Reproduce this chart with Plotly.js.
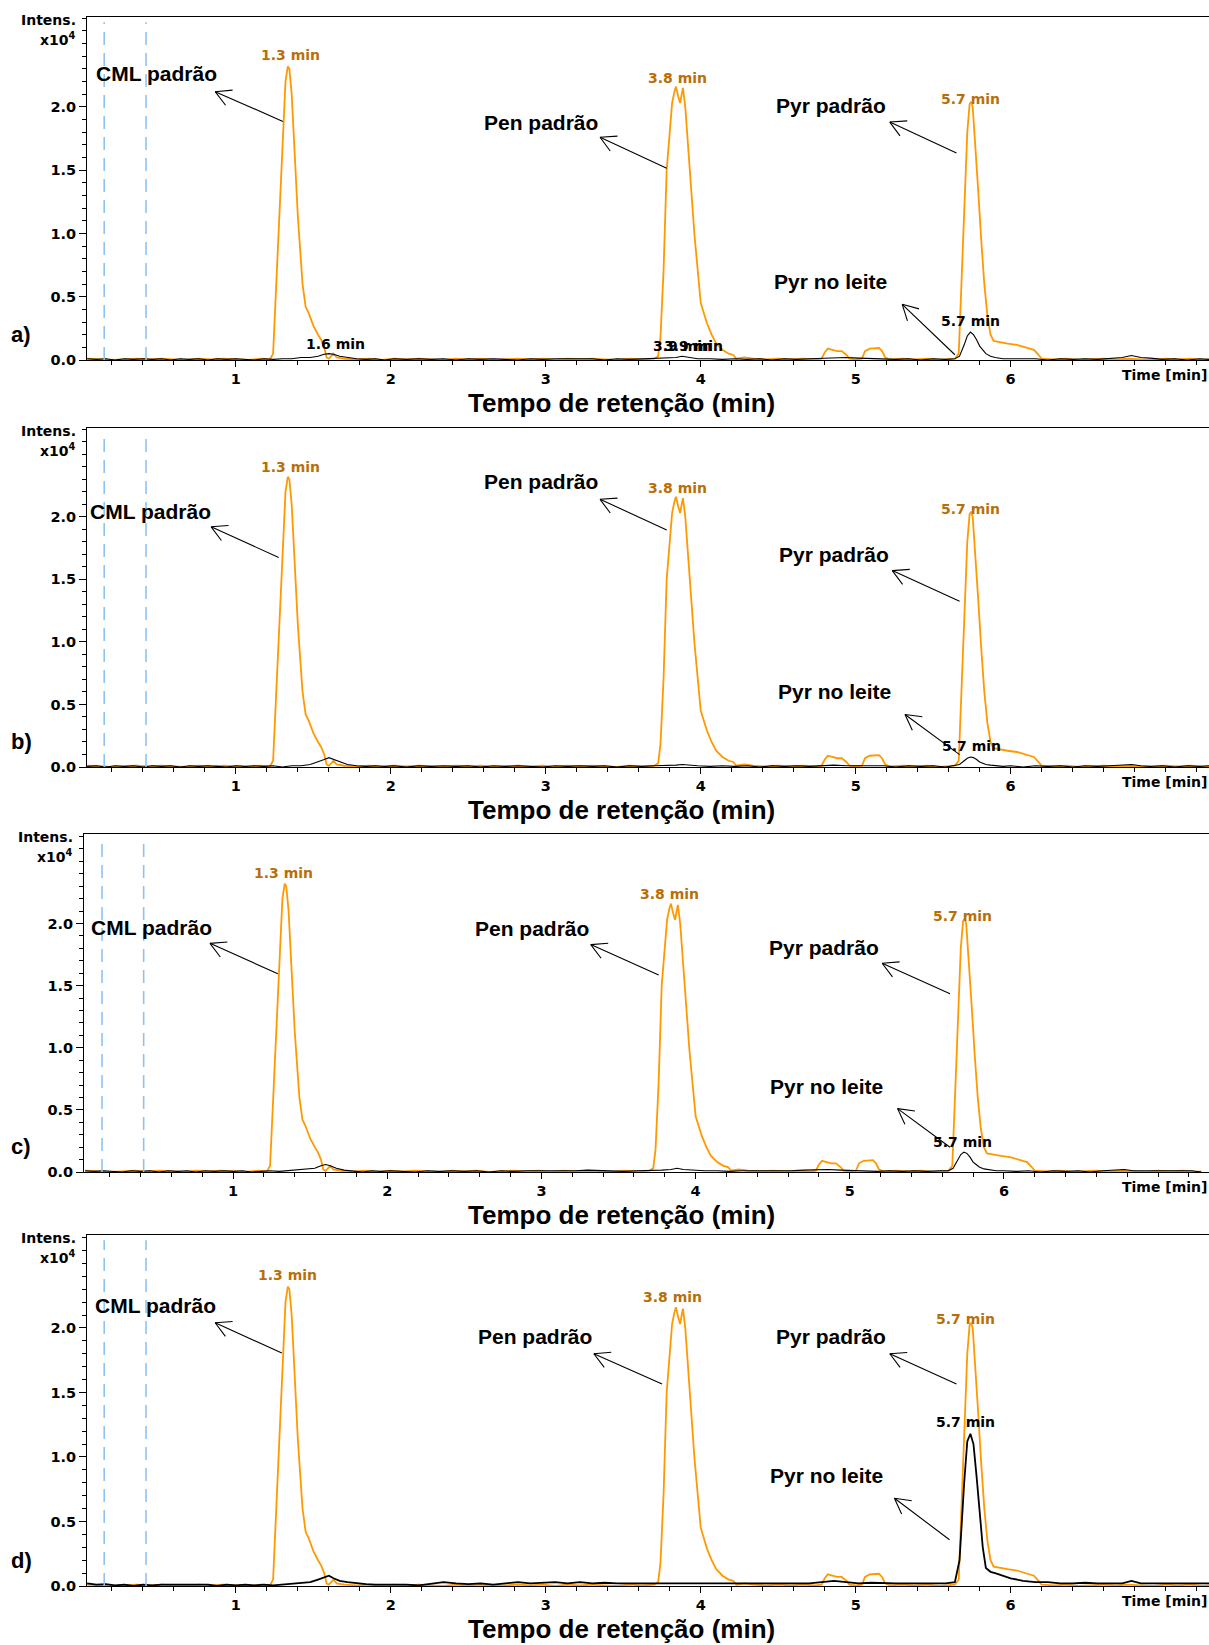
<!DOCTYPE html>
<html><head><meta charset="utf-8">
<script src="https://cdn.plot.ly/plotly-3.0.1.min.js"></script>
<style>body{margin:0;padding:0;background:#fff}#chart{width:1209px;height:1645px}</style>
</head><body><div id="chart"></div>
<script>
// ---- standard (orange) chromatogram, intensity x10^4 ----
const tStd = [0.04,0.12,0.2,0.28,0.36,0.44,0.52,0.6,0.68,0.76,0.84,0.92,1.0,1.08,1.16,1.22,
 1.24,1.26,1.28,1.30,1.32,1.335,1.345,1.36,1.38,1.40,1.43,1.45,1.47,1.50,1.53,1.55,1.57,1.585,1.60,1.63,1.65,1.70,
 1.78,1.86,1.94,2.02,2.10,2.18,2.26,2.34,2.42,2.50,2.58,2.66,2.74,2.82,2.90,2.98,3.06,3.14,3.22,3.30,3.38,3.46,3.54,3.62,3.70,
 3.725,3.74,3.76,3.78,3.80,3.815,3.83,3.84,3.855,3.867,3.877,3.885,3.90,3.93,3.96,4.00,4.04,4.07,4.10,4.14,4.18,4.21,4.23,
 4.28,4.34,4.42,4.50,4.58,4.66,4.74,4.78,4.80,4.82,4.85,4.88,4.91,4.94,4.96,5.00,5.04,5.06,5.09,5.12,5.15,5.17,5.19,5.22,
 5.30,5.38,5.46,5.54,5.60,5.64,5.665,5.68,5.70,5.72,5.735,5.745,5.755,5.77,5.79,5.81,5.83,5.85,5.87,5.89,5.93,5.98,6.04,6.10,6.15,6.18,6.20,
 6.28,6.36,6.44,6.52,6.60,6.68,6.76,6.84,6.92,7.00,7.08,7.16,7.24,7.28];
const stdIntensity = [0.01,0.005,0.0,0.005,0.01,0.005,0.01,0.005,0.0,0.01,0.005,0.01,0.005,0.0,0.01,0.005,
 0.05,0.6,1.13,1.7,2.2,2.32,2.3,2.1,1.66,1.13,0.6,0.42,0.37,0.27,0.2,0.16,0.1,0.02,0.01,0.05,0.02,0.01,
 0.005,0.01,0.0,0.01,0.005,0.01,0.005,0.0,0.01,0.005,0.01,0.0,0.005,0.01,0.005,0.01,0.0,0.01,0.005,0.01,0.005,0.0,0.01,0.005,0.01,
 0.03,0.18,0.71,1.5,1.85,2.03,2.12,2.16,2.08,2.03,2.1,2.15,2.0,1.5,0.98,0.45,0.29,0.2,0.13,0.08,0.05,0.04,0.01,
 0.02,0.01,0.005,0.01,0.005,0.01,0.005,0.01,0.06,0.09,0.08,0.07,0.07,0.04,0.01,0.005,0.01,0.07,0.09,0.09,0.095,0.07,0.02,0.005,
 0.01,0.005,0.01,0.0,0.005,0.01,0.05,0.5,1.2,1.8,2.02,2.04,2.0,1.75,1.35,0.95,0.6,0.35,0.2,0.15,0.14,0.13,0.12,0.1,0.08,0.04,0.01,
 0.005,0.01,0.0,0.005,0.01,0.005,0.01,0.005,0.0,0.01,0.005,0.01,0.0,0.005];

// ---- milk samples (black), intensity x10^4 ----
const tMilk = [0.04,0.10,0.16,0.22,0.28,0.34,0.40,0.46,0.52,0.58,
 0.64,0.70,0.76,0.82,0.88,0.94,1.00,1.06,1.12,1.18,
 1.24,1.30,1.36,1.42,1.48,1.53,1.57,1.60,1.63,1.67,
 1.72,1.78,1.84,1.90,1.96,2.02,2.10,2.18,2.26,2.34,
 2.42,2.50,2.58,2.66,2.74,2.82,2.90,2.98,3.06,3.14,
 3.22,3.30,3.38,3.46,3.54,3.62,3.70,3.78,3.84,3.88,
 3.92,3.98,4.06,4.14,4.22,4.30,4.38,4.46,4.54,4.62,
 4.70,4.78,4.86,4.94,5.02,5.10,5.18,5.26,5.34,5.42,
 5.50,5.58,5.64,5.67,5.70,5.72,5.74,5.76,5.78,5.80,
 5.82,5.84,5.87,5.90,5.95,6.00,6.08,6.16,6.24,6.32,
 6.40,6.48,6.56,6.64,6.72,6.78,6.84,6.90,6.98,7.06,
 7.14,7.22,7.28];
const milkA = [0.01,0.005,0.01,0.0,0.01,0.005,0.01,0.005,0.01,0.0,
 0.01,0.005,0.01,0.0,0.01,0.005,0.01,0.005,0.0,0.01,
 0.005,0.01,0.01,0.02,0.02,0.03,0.045,0.05,0.045,0.03,
 0.02,0.01,0.005,0.01,0.0,0.01,0.005,0.01,0.005,0.01,
 0.0,0.01,0.005,0.01,0.005,0.0,0.01,0.005,0.01,0.01,
 0.005,0.01,0.0,0.01,0.005,0.01,0.01,0.015,0.02,0.03,
 0.02,0.01,0.01,0.005,0.01,0.005,0.01,0.0,0.01,0.005,
 0.01,0.015,0.02,0.02,0.015,0.01,0.01,0.005,0.01,0.0,
 0.01,0.005,0.01,0.03,0.12,0.19,0.22,0.2,0.16,0.11,
 0.08,0.05,0.03,0.02,0.01,0.01,0.005,0.01,0.0,0.01,
 0.005,0.01,0.005,0.01,0.02,0.035,0.02,0.015,0.005,0.01,
 0.0,0.01,0.005];
const milkB = [0.005,0.01,0.0,0.01,0.005,0.01,0.0,0.01,0.005,0.01,
 0.0,0.01,0.005,0.01,0.005,0.0,0.01,0.005,0.01,0.005,
 0.01,0.0,0.01,0.01,0.02,0.04,0.06,0.075,0.06,0.04,
 0.02,0.01,0.005,0.01,0.005,0.01,0.0,0.01,0.005,0.01,
 0.005,0.01,0.0,0.01,0.005,0.01,0.005,0.0,0.01,0.005,
 0.01,0.005,0.01,0.0,0.01,0.005,0.01,0.01,0.015,0.02,
 0.015,0.01,0.005,0.01,0.005,0.01,0.0,0.01,0.005,0.01,
 0.005,0.01,0.015,0.01,0.01,0.005,0.01,0.0,0.01,0.005,
 0.01,0.0,0.01,0.02,0.05,0.07,0.08,0.075,0.06,0.04,
 0.03,0.02,0.015,0.01,0.005,0.01,0.0,0.01,0.005,0.01,
 0.0,0.01,0.005,0.01,0.015,0.02,0.01,0.005,0.01,0.0,
 0.01,0.005,0.01];
const milkC = [0.01,0.005,0.01,0.005,0.0,0.01,0.005,0.01,0.0,0.01,
 0.005,0.01,0.0,0.01,0.005,0.01,0.005,0.01,0.0,0.005,
 0.01,0.005,0.01,0.015,0.02,0.03,0.05,0.06,0.05,0.03,
 0.015,0.01,0.0,0.01,0.005,0.01,0.005,0.0,0.01,0.005,
 0.01,0.005,0.01,0.0,0.01,0.005,0.01,0.01,0.005,0.01,
 0.01,0.015,0.01,0.01,0.005,0.01,0.01,0.015,0.02,0.03,
 0.02,0.015,0.01,0.01,0.005,0.01,0.01,0.005,0.01,0.01,
 0.015,0.02,0.02,0.015,0.01,0.01,0.005,0.01,0.005,0.01,
 0.005,0.01,0.01,0.03,0.09,0.14,0.16,0.15,0.12,0.08,
 0.06,0.04,0.025,0.02,0.01,0.01,0.005,0.01,0.0,0.01,
 0.005,0.01,0.0,0.01,0.015,0.02,0.01,0.01,0.005,0.01,
 0.005,0.01,0.0];
const milkD = [0.02,0.01,0.015,0.005,0.01,0.0,0.01,0.005,0.01,0.01,
 0.005,0.01,0.005,0.01,0.0,0.01,0.005,0.01,0.005,0.01,
 0.005,0.01,0.015,0.02,0.03,0.05,0.07,0.08,0.06,0.04,
 0.03,0.02,0.015,0.01,0.01,0.015,0.01,0.005,0.02,0.03,
 0.02,0.015,0.02,0.01,0.02,0.03,0.02,0.025,0.03,0.02,
 0.03,0.02,0.025,0.02,0.02,0.025,0.02,0.02,0.025,0.02,
 0.02,0.025,0.02,0.02,0.025,0.02,0.02,0.02,0.02,0.025,
 0.02,0.03,0.04,0.03,0.02,0.025,0.02,0.02,0.02,0.02,
 0.02,0.02,0.03,0.2,0.8,1.12,1.18,1.1,0.85,0.55,
 0.3,0.14,0.11,0.1,0.08,0.06,0.04,0.03,0.03,0.02,
 0.02,0.025,0.02,0.02,0.02,0.04,0.02,0.02,0.02,0.025,
 0.02,0.02,0.02];
const milkSeries = [milkA, milkB, milkC, milkD];

// ---- tick labels & texts ----
const xTickVals = [1,2,3,4,5,6];
const yTickVals = [0,0.5,1,1.5,2];
const yTickText = ['0.0','0.5','1.0','1.5','2.0'];
const panelLetters = ['a)','b)','c)','d)'];
const compoundLabels = ['CML padrão','Pen padrão','Pyr padrão','Pyr no leite'];
const stdPeakLabels = ['1.3 min','3.8 min','5.7 min'];
const xTitle = 'Tempo de retenção (min)';
const unitLabel = 'Time [min]';
const divertTimes = [0.15, 0.42];

// ---- panel geometry (px) ----
const W = 1209, H = 1645;
const panelTop = [17, 428, 834, 1235];
const panelBottom = [360, 767, 1172, 1586];
const panelLeft = [87, 87, 84, 87];
const xRanges = [[0.039,7.28],[0.039,7.28],[0.033,7.33],[0.039,7.28]];
const yRanges = [[0,2.71],[0,2.71],[0,2.72],[0,2.72]];

// label placements per panel (data coords)
const compoundPos = [
 [[0.487,2.26],[2.97,1.88],[4.84,2.01],[4.84,0.62]],
 [[0.446,2.04],[2.97,2.28],[4.857,1.70],[4.86,0.605]],
 [[0.469,1.97],[2.94,1.96],[4.83,1.81],[4.85,0.69]],
 [[0.48,2.17],[2.93,1.93],[4.84,1.93],[4.81,0.86]]
];
const arrowHeads = [
 [[0.866,2.12],[3.35,1.76],[5.22,1.88],[5.30,0.44]],
 [[0.84,1.92],[3.35,2.14],[5.236,1.57],[5.318,0.42]],
 [[0.85,1.84],[3.32,1.83],[5.21,1.68],[5.31,0.51]],
 [[0.866,2.04],[3.31,1.80],[5.22,1.80],[5.25,0.68]]
];
const arrowTails = [
 [[1.313,1.88],[3.79,1.51],[5.66,1.63],[5.65,0.03]],
 [[1.286,1.67],[3.79,1.89],[5.68,1.32],[5.68,0.09]],
 [[1.30,1.59],[3.77,1.58],[5.66,1.43],[5.66,0.19]],
 [[1.306,1.80],[3.76,1.56],[5.66,1.56],[5.615,0.35]]
];
const stdPeakPos = [
 [[1.35,2.41],[3.85,2.23],[5.74,2.06]],
 [[1.35,2.40],[3.85,2.23],[5.74,2.06]],
 [[1.327,2.41],[3.83,2.24],[5.73,2.06]],
 [[1.33,2.41],[3.82,2.24],[5.71,2.07]]
];
const milkPeakLabels = [
 [['1.6 min',1.645,0.13],['5.7 min',5.74,0.31],['3.9 min',3.88,0.11],['3.9 min',3.95,0.11]],
 [['5.7 min',5.75,0.17]],
 [['5.7 min',5.73,0.24]],
 [['5.7 min',5.71,1.27]]
];

const ORANGE = '#ff9900';
const ORANGE_TXT = '#b86f08';
const BOLD = 'Liberation Sans, Arial, sans-serif';
const WIDE = 'DejaVu Sans, Verdana, sans-serif';

const traces = [];
const layout = {
  width: W, height: H, autosize: false,
  margin: {l:0, r:0, t:0, b:0},
  paper_bgcolor: '#fff', plot_bgcolor: '#fff',
  showlegend: false,
  annotations: [], shapes: []
};

function barbs(xr, yr, head, tail, sx, sy) {
  const dx = (tail[0]-head[0])*sx, dy = -(tail[1]-head[1])*sy;
  const ang = Math.atan2(dy, dx);
  const out = [];
  [0.5, -0.5].forEach(s => {
    out.push({xref:xr, yref:yr, x:head[0], y:head[1], ax:19*Math.cos(ang+s), ay:19*Math.sin(ang+s),
      text:'', showarrow:true, arrowhead:0, arrowwidth:1.1, arrowcolor:'#000', standoff:0, startstandoff:0});
  });
  return out;
}

for (let i = 0; i < 4; i++) {
  const n = i + 1;
  const xa = 'xaxis' + (n === 1 ? '' : n), ya = 'yaxis' + (n === 1 ? '' : n);
  const xr = 'x' + (n === 1 ? '' : n), yr = 'y' + (n === 1 ? '' : n);
  const top = panelTop[i], bot = panelBottom[i], left = panelLeft[i];
  const plotW = W - left, plotH = bot - top;
  const sx = plotW / (xRanges[i][1]-xRanges[i][0]);
  const sy = plotH / (yRanges[i][1]-yRanges[i][0]);

  layout[xa] = {
    domain: [left/W, 1], anchor: yr, range: xRanges[i],
    showline: true, linecolor: '#000', linewidth: 1, mirror: true,
    showgrid: false, zeroline: false,
    ticks: 'outside', ticklen: 6, tickwidth: 1, tickcolor: '#000',
    tickmode: 'array', tickvals: xTickVals,
    tickfont: {family: WIDE, size: 14.5, color: '#000', weight: 'bold'},
    minor: {tickmode: 'linear', tick0: 0, dtick: 0.2, ticks: 'outside', ticklen: 4, tickcolor: '#000', showgrid: false}
  };
  layout[ya] = {
    domain: [1 - bot/H, 1 - top/H], anchor: xr, range: yRanges[i],
    showline: true, linecolor: '#000', linewidth: 1,
    showgrid: false, zeroline: false,
    ticks: 'outside', ticklen: 7, tickwidth: 1, tickcolor: '#000',
    tickmode: 'array', tickvals: yTickVals, ticktext: yTickText,
    tickfont: {family: WIDE, size: 14.5, color: '#000', weight: 'bold'},
    minor: {tickmode: 'linear', tick0: 0, dtick: 0.1, ticks: 'outside', ticklen: 4, tickcolor: '#000', showgrid: false}
  };

  traces.push({x: tStd, y: stdIntensity, xaxis: xr, yaxis: yr, type: 'scatter', mode: 'lines',
    line: {color: ORANGE, width: 1.8}, hoverinfo: 'skip'});
  const m = milkSeries[i];
  const len = Math.min(m.length, tMilk.length);
  traces.push({x: tMilk.slice(0,len), y: m.slice(0,len), xaxis: xr, yaxis: yr, type: 'scatter', mode: 'lines',
    line: {color: '#000', width: i === 3 ? 1.8 : 1.1}, hoverinfo: 'skip'});

  divertTimes.forEach(t => layout.shapes.push({type:'line', xref: xr, yref: yr + ' domain', x0:t, x1:t, y0:0, y1:0.985,
    line: {color:'#8cc3f2', width:1.6, dash:'13px,8px'}}));

  // compound labels + arrows
  compoundLabels.forEach((txt, k) => {
    layout.annotations.push({xref: xr, yref: yr, x: compoundPos[i][k][0], y: compoundPos[i][k][1], text: txt,
      showarrow: false, font: {family: BOLD, size: 21, color: '#000', weight: 'bold'}});
    const h = arrowHeads[i][k], t = arrowTails[i][k];
    layout.annotations.push({xref: xr, yref: yr, x: h[0], y: h[1], axref: xr, ayref: yr, ax: t[0], ay: t[1],
      text: '', showarrow: true, arrowhead: 0, arrowwidth: 1.1, arrowcolor: '#000', standoff: 0, startstandoff: 0});
    barbs(xr, yr, h, t, sx, sy).forEach(b => layout.annotations.push(b));
  });
  stdPeakLabels.forEach((txt, k) => layout.annotations.push({xref: xr, yref: yr,
    x: stdPeakPos[i][k][0], y: stdPeakPos[i][k][1], text: txt, showarrow: false,
    font: {family: WIDE, size: 14, color: ORANGE_TXT, weight: 'bold'}}));
  milkPeakLabels[i].forEach(p => layout.annotations.push({xref: xr, yref: yr, x: p[1], y: p[2], text: p[0],
    showarrow: false, font: {family: WIDE, size: 14, color: '#000', weight: 'bold'}}));

  // frame texts in paper coords
  const py = v => 1 - v / H;
  layout.annotations.push({xref:'paper', yref:'paper', x: (left-9)/W, y: py(top+3), xanchor:'right', yanchor:'middle',
    text:'Intens.', showarrow:false, font:{family: WIDE, size: 14, color:'#000', weight:'bold'}});
  layout.annotations.push({xref:'paper', yref:'paper', x: (left-9)/W, y: py(top+22), xanchor:'right', yanchor:'middle',
    text:'x10<sup>4</sup>', showarrow:false, font:{family: WIDE, size: 14, color:'#000', weight:'bold'}});
  layout.annotations.push({xref:'paper', yref:'paper', x: 1164/W, y: py(bot+15), xanchor:'center', yanchor:'middle',
    text: unitLabel, showarrow:false, font:{family: WIDE, size: 14, color:'#000', weight:'bold'}});
  layout.annotations.push({xref:'paper', yref:'paper', x: 621/W, y: py(bot+43), xanchor:'center', yanchor:'middle',
    text: xTitle, showarrow:false, font:{family: BOLD, size: 26, color:'#000', weight:'bold'}});
  layout.annotations.push({xref:'paper', yref:'paper', x: 21/W, y: py(bot-26), xanchor:'center', yanchor:'middle',
    text: panelLetters[i], showarrow:false, font:{family: BOLD, size: 22, color:'#000', weight:'bold'}});
}

Plotly.newPlot('chart', traces, layout, {staticPlot: true, displayModeBar: false});
</script>
</body></html>
